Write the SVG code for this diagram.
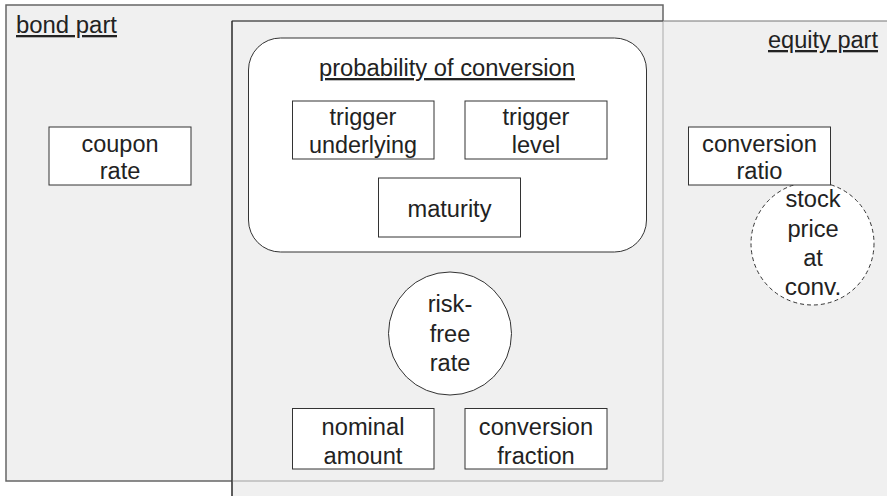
<svg xmlns="http://www.w3.org/2000/svg" width="887" height="496" viewBox="0 0 887 496">
<style>
.t{font-family:"Liberation Sans",Arial,Helvetica,sans-serif;font-size:23px;fill:#222;text-anchor:middle}
.l{text-anchor:start}
.u{text-decoration:underline}
.box{fill:#fff;stroke:#333;stroke-width:1}
.circ{fill:#fff;stroke:#333;stroke-width:1}
.dash{stroke-dasharray:4 3}
</style>
<g id="bond-part">
<rect x="6" y="5" width="657" height="476" fill="#f0f0f0" stroke="#666" stroke-width="1.5"/>
</g>
<g id="equity-part">
<rect x="232" y="21" width="700" height="500" fill="#f0f0f0" stroke="#777" stroke-width="1"/>
<line x1="663" y1="21" x2="663" y2="481" stroke="#aaa" stroke-width="1"/>
<line x1="232" y1="481" x2="663" y2="481" stroke="#bbb" stroke-width="1.5"/>
<line x1="232" y1="21" x2="663" y2="21" stroke="#444" stroke-width="1"/>
<line x1="232" y1="21" x2="232" y2="496" stroke="#222" stroke-width="1.2"/>
</g>
<g id="labels">
<text class="t l u" x="16" y="33" textLength="101" lengthAdjust="spacingAndGlyphs">bond part</text>
<text class="t l u" x="768" y="48" textLength="110" lengthAdjust="spacingAndGlyphs">equity part</text>
</g>
<g id="probability-of-conversion">
<rect x="248.5" y="38" width="398" height="214" rx="32" ry="32" fill="#fff" stroke="#333" stroke-width="1"/>
<text class="t u" x="447" y="76" textLength="256" lengthAdjust="spacingAndGlyphs">probability of conversion</text>
</g>
<g id="coupon-rate">
<rect class="box" x="49" y="127" width="142" height="58"/>
<text class="t" x="120" y="151.5" textLength="77" lengthAdjust="spacingAndGlyphs">coupon</text>
<text class="t" x="120" y="179" textLength="40.7" lengthAdjust="spacingAndGlyphs">rate</text>
</g>
<g id="trigger-underlying">
<rect class="box" x="292.5" y="101" width="141.5" height="58"/>
<text class="t" x="363" y="124.5" textLength="67" lengthAdjust="spacingAndGlyphs">trigger</text>
<text class="t" x="363" y="153" textLength="108" lengthAdjust="spacingAndGlyphs">underlying</text>
</g>
<g id="trigger-level">
<rect class="box" x="465" y="101" width="142" height="58"/>
<text class="t" x="536" y="124.5" textLength="67" lengthAdjust="spacingAndGlyphs">trigger</text>
<text class="t" x="536" y="153" textLength="48.6" lengthAdjust="spacingAndGlyphs">level</text>
</g>
<g id="maturity">
<rect class="box" x="378.5" y="178" width="142" height="59"/>
<text class="t" x="449.5" y="217" textLength="84" lengthAdjust="spacingAndGlyphs">maturity</text>
</g>
<g id="stock-price-at-conv">
<circle class="circ dash" cx="812.5" cy="243.5" r="61.5"/>
<text class="t" x="813" y="207" textLength="55.2" lengthAdjust="spacingAndGlyphs">stock</text>
<text class="t" x="813" y="236.5" textLength="51.2" lengthAdjust="spacingAndGlyphs">price</text>
<text class="t" x="813" y="266" textLength="19.7" lengthAdjust="spacingAndGlyphs">at</text>
<text class="t" x="813" y="295" textLength="56.5" lengthAdjust="spacingAndGlyphs">conv.</text>
</g>
<g id="conversion-ratio">
<rect class="box" x="688.5" y="127" width="142" height="58"/>
<text class="t" x="759.5" y="151.5" textLength="115" lengthAdjust="spacingAndGlyphs">conversion</text>
<text class="t" x="759.5" y="178.5" textLength="46" lengthAdjust="spacingAndGlyphs">ratio</text>
</g>
<g id="risk-free-rate">
<circle class="circ" cx="450" cy="333.5" r="61.5"/>
<text class="t" x="450" y="311.5" textLength="44.7" lengthAdjust="spacingAndGlyphs">risk-</text>
<text class="t" x="450" y="341.5" textLength="40.7" lengthAdjust="spacingAndGlyphs">free</text>
<text class="t" x="450" y="371" textLength="40.7" lengthAdjust="spacingAndGlyphs">rate</text>
</g>
<g id="nominal-amount">
<rect class="box" x="292.5" y="408.5" width="141.5" height="60.5"/>
<text class="t" x="363" y="435" textLength="82.8" lengthAdjust="spacingAndGlyphs">nominal</text>
<text class="t" x="363" y="463.5" textLength="78.9" lengthAdjust="spacingAndGlyphs">amount</text>
</g>
<g id="conversion-fraction">
<rect class="box" x="465" y="408.5" width="142" height="60.5"/>
<text class="t" x="536" y="435" textLength="114.3" lengthAdjust="spacingAndGlyphs">conversion</text>
<text class="t" x="536" y="463.5" textLength="77.5" lengthAdjust="spacingAndGlyphs">fraction</text>
</g>
<g id="connectors"></g>
</svg>
